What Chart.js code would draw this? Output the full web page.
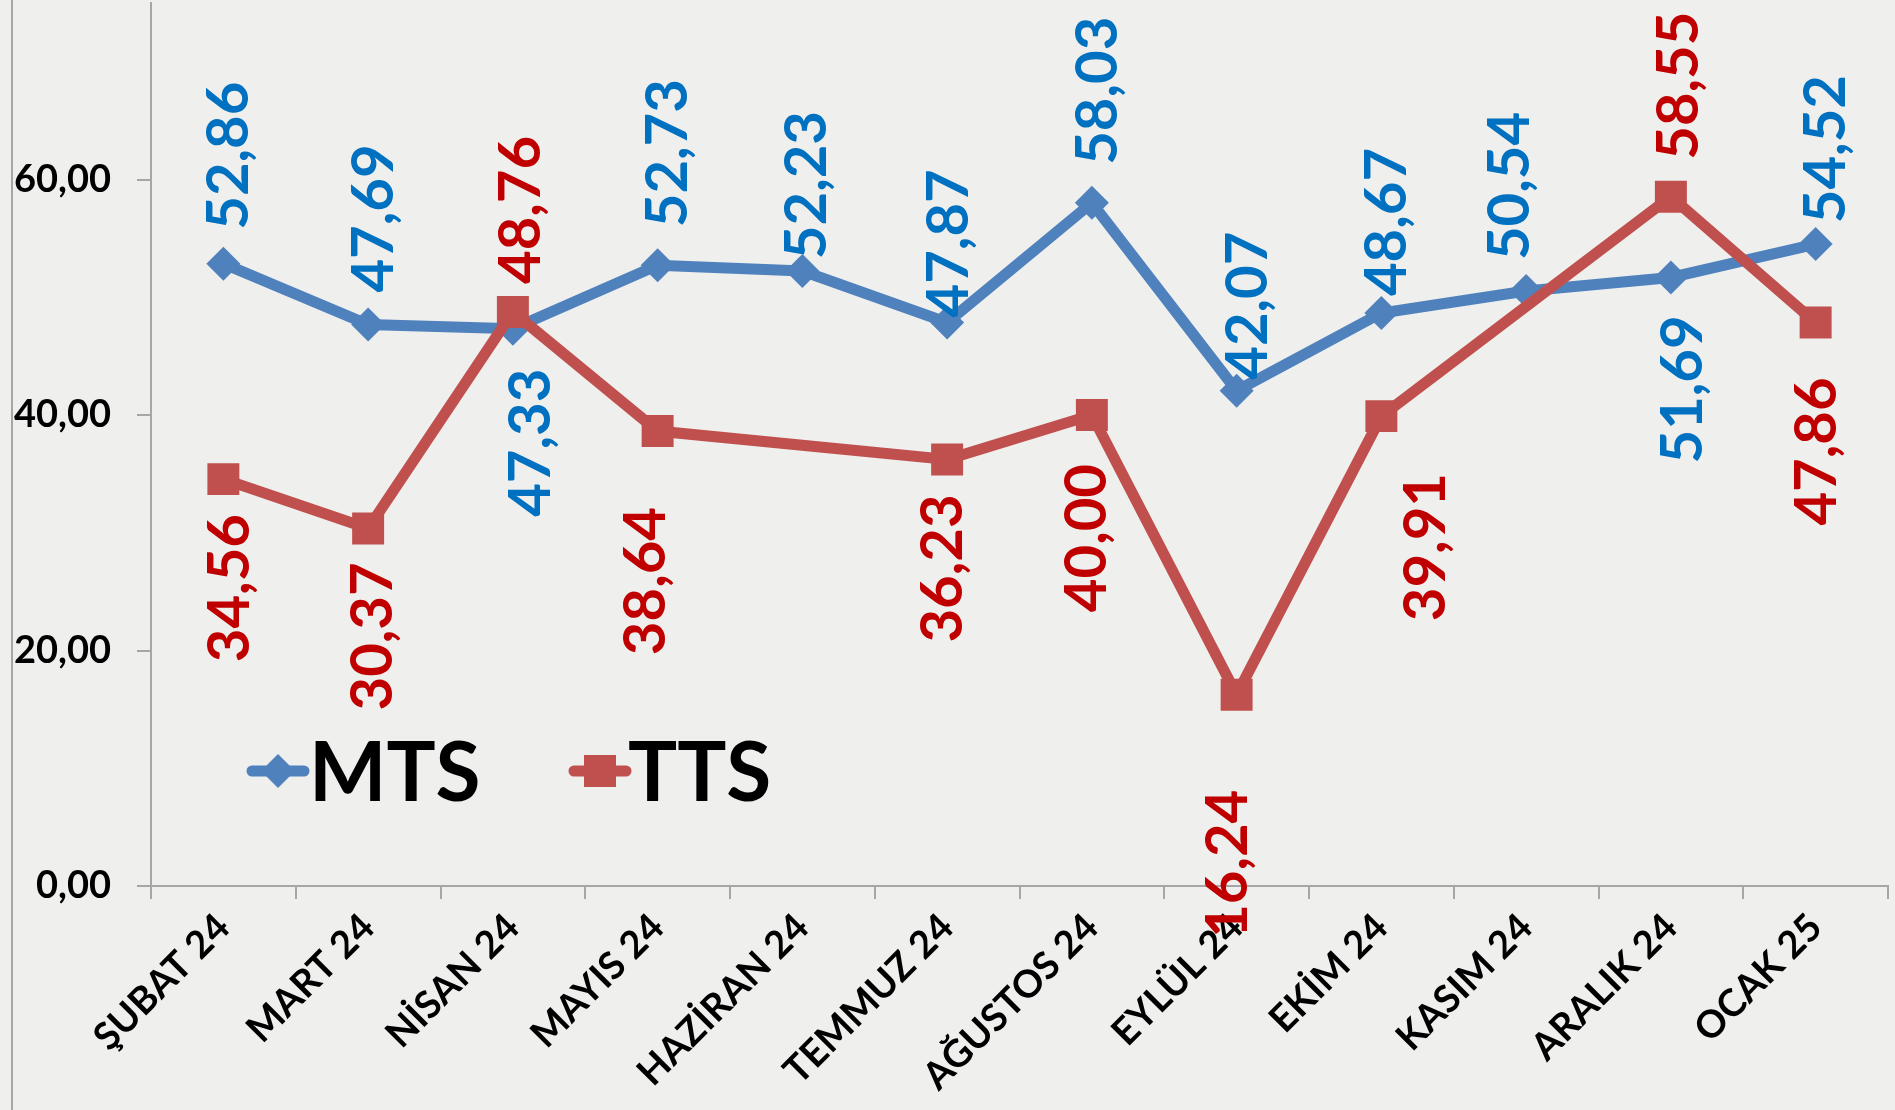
<!DOCTYPE html>
<html><head><meta charset="utf-8">
<script src="https://cdn.jsdelivr.net/npm/chart.js@4.4.0/dist/chart.umd.min.js"></script>
<style>html,body{margin:0;padding:0;background:#efefee;overflow:hidden}canvas{display:block}</style>
</head><body>
<canvas id="c" width="1895" height="1110"></canvas>
<script>
// ---- data ----
const categories = ['ŞUBAT 24','MART 24','NİSAN 24','MAYIS 24','HAZİRAN 24','TEMMUZ 24','AĞUSTOS 24','EYLÜL 24','EKİM 24','KASIM 24','ARALIK 24','OCAK 25'];
const mtsValues = [52.86,47.69,47.33,52.73,52.23,47.87,58.03,42.07,48.67,50.54,51.69,54.52];
const ttsValues = [34.56,30.37,48.76,38.64,null,36.23,40.00,16.24,39.91,null,58.55,47.86];
const yTickValues = [0,20,40,60];
const seriesNames = ['MTS','TTS'];

// ---- label placement (style, px offsets from point to label centre) ----
const mtsLabelOffsets = [[6,-108],[6,-106],[18,114],[11,-112],[5,-86],[2,-79],[6,-112],[12,-85],[6,-91],[-16,-105],[12,112],[11,-95]];
const ttsLabelOffsets = [[7,109],[5,108],[8,-102],[-11,150],[0,0],[-4,109],[-5,123],[-8,169],[45,131],[0,0],[8,-111],[2,129]];

const FONT = 'Lato, "Open Sans", sans-serif';
const fmt = v => v.toFixed(2).replace('.', ',');

const bgPlugin = {
  id: 'bg',
  beforeDraw(chart) {
    const ctx = chart.ctx;
    ctx.save();
    ctx.fillStyle = '#efefee';
    ctx.fillRect(0, 0, chart.width, chart.height);
    ctx.strokeStyle = '#a6a6a6';
    ctx.lineWidth = 2;
    ctx.beginPath();
    ctx.moveTo(12, 0); ctx.lineTo(12, chart.height);
    ctx.stroke();
    ctx.restore();
  }
};

const labelPlugin = {
  id: 'vlabels',
  afterDatasetsDraw(chart) {
    const ctx = chart.ctx;
    const cfg = [
      {ds: 0, color: '#0070C0', off: mtsLabelOffsets},
      {ds: 1, color: '#C00000', off: ttsLabelOffsets}
    ];
    ctx.save();
    ctx.font = 'bold 58px ' + FONT;
    ctx.textAlign = 'center';
    ctx.textBaseline = 'middle';
    cfg.forEach(c => {
      const meta = chart.getDatasetMeta(c.ds);
      const vals = chart.data.datasets[c.ds].data;
      meta.data.forEach((pt, i) => {
        const v = vals[i];
        if (v === null || v === undefined) return;
        ctx.save();
        ctx.translate(pt.x + c.off[i][0], pt.y + c.off[i][1]);
        ctx.rotate(-Math.PI / 2);
        ctx.fillStyle = c.color;
        ctx.fillText(fmt(v), 0, 0);
        ctx.restore();
      });
    });
    ctx.restore();
  }
};

const legendPlugin = {
  id: 'inlegend',
  afterDraw(chart) {
    const ctx = chart.ctx;
    const y = 771;
    ctx.save();
    // MTS
    ctx.strokeStyle = '#4F81BD'; ctx.lineWidth = 11; ctx.lineCap = 'round';
    ctx.beginPath(); ctx.moveTo(252, y); ctx.lineTo(304, y); ctx.stroke();
    ctx.fillStyle = '#4F81BD';
    ctx.beginPath(); ctx.moveTo(278, y - 17); ctx.lineTo(295, y); ctx.lineTo(278, y + 17); ctx.lineTo(261, y); ctx.closePath(); ctx.fill();
    // TTS
    ctx.strokeStyle = '#C0504D';
    ctx.beginPath(); ctx.moveTo(574, y); ctx.lineTo(626, y); ctx.stroke();
    ctx.fillStyle = '#C0504D';
    ctx.fillRect(600 - 16, y - 16, 32, 32);
    // text
    ctx.fillStyle = '#000';
    ctx.font = 'bold 82px ' + FONT;
    ctx.textBaseline = 'alphabetic';
    ctx.textAlign = 'left';
    ctx.fillText(seriesNames[0], 309, 801);
    ctx.fillText(seriesNames[1], 628, 801);
    ctx.restore();
  }
};

new Chart(document.getElementById('c'), {
  type: 'line',
  data: {
    labels: categories,
    datasets: [
      {
        label: seriesNames[0], data: mtsValues, order: 1,
        borderColor: '#4F81BD', backgroundColor: '#4F81BD', borderWidth: 11,
        pointStyle: 'rectRot', pointRadius: 17, pointBorderWidth: 0,
        pointBackgroundColor: '#4F81BD', tension: 0, spanGaps: true
      },
      {
        label: seriesNames[1], data: ttsValues, order: 0,
        borderColor: '#C0504D', backgroundColor: '#C0504D', borderWidth: 11,
        pointStyle: 'rect', pointRadius: 22.6, pointBorderWidth: 0,
        pointBackgroundColor: '#C0504D', tension: 0, spanGaps: true
      }
    ]
  },
  options: {
    responsive: false, animation: false, devicePixelRatio: 1,
    layout: { autoPadding: false, padding: { top: 3, right: 7, left: 0, bottom: 0 } },
    plugins: { legend: { display: false }, tooltip: { enabled: false } },
    scales: {
      x: {
        type: 'category', offset: true,
        grid: { display: true, offset: true, drawOnChartArea: false, drawTicks: true, tickLength: 13, color: '#a6a6a6', lineWidth: 2 },
        border: { display: true, color: '#a6a6a6', width: 2 },
        ticks: { autoSkip: false, minRotation: 45, maxRotation: 45, color: '#000', padding: 6,
                 font: { family: FONT, size: 38, weight: 'bold' } },
        afterFit(s) { s.height = 224; }
      },
      y: {
        min: 0, max: 75,
        grid: { display: true, drawOnChartArea: false, drawTicks: true, tickLength: 14, color: '#a6a6a6', lineWidth: 2 },
        border: { display: true, color: '#a6a6a6', width: 2 },
        afterBuildTicks(s) { s.ticks = yTickValues.map(v => ({ value: v })); },
        ticks: { color: '#000', padding: 26, callback: v => fmt(v),
                 font: { family: FONT, size: 38, weight: 'bold' } },
        afterFit(s) { s.width = 151; s.paddingTop = 0; s.paddingBottom = 0; }
      }
    }
  },
  plugins: [bgPlugin, labelPlugin, legendPlugin]
});
</script>
</body></html>
